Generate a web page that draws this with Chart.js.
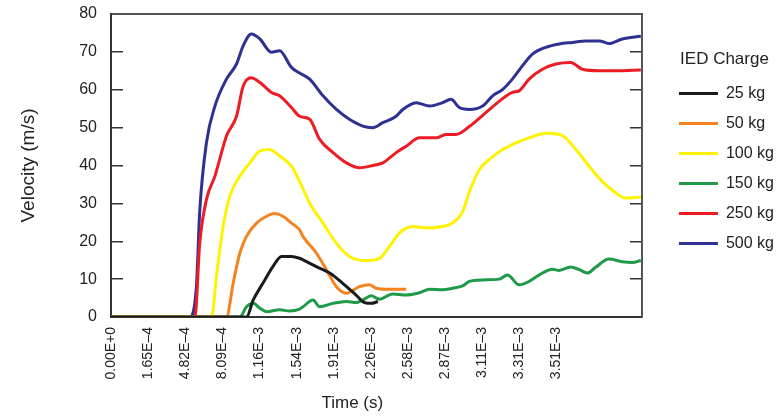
<!DOCTYPE html>
<html>
<head>
<meta charset="utf-8">
<title>Velocity vs time for IED charges</title>
<script src="https://cdn.jsdelivr.net/npm/chart.js@4.4.1/dist/chart.umd.min.js"></script>
<style>
  html, body { margin: 0; padding: 0; background: #fff; }
  #wrap { position: relative; width: 780px; height: 419px; }
</style>
</head>
<body>
<div id="wrap"><canvas id="chart"></canvas></div>
<script>
// time axis: one label every 10 samples
const timeLabels = ['0.00E+0', '1.65E–4', '4.82E–4', '8.09E–4', '1.16E–3', '1.54E–3', '1.91E–3',
  '2.26E–3', '2.58E–3', '2.87E–3', '3.11E–3', '3.31E–3', '3.51E–3'];

const charges = ['25 kg', '50 kg', '100 kg', '150 kg', '250 kg', '500 kg'];
const colours = ['#1a1a1a', '#f58220', '#fff200', '#1e9a48', '#ed1c24', '#2e3192'];

// sample number / velocity (m/s) for every charge
const t25 = [0, 36.5, 38.3, 40.9, 43.6, 45.9, 48.6, 50.8, 51.7, 55.3, 58.9, 62.4, 66.0, 68.3, 70.1, 71.9];
const v25 = [0, 0, 4.5, 8.9, 13.3, 16, 16, 15.5, 15.1, 13.3, 11.6, 8.9, 5.8, 3.8, 3.6, 4.1];

const t50 = [0, 31.1, 32.9, 34.7, 36.5, 39.2, 41.9, 44.1, 46.3, 48.6, 50.8, 51.7, 55.3, 58.0, 60.7, 63.4, 66.9, 69.6, 71.4, 75.0, 79.5];
const v50 = [0, 0, 8.9, 16.9, 21.3, 24.8, 26.6, 27.3, 26.6, 24.8, 23, 21.3, 16.9, 12.5, 8, 6.3, 8, 8.5, 7.6, 7.3, 7.3];

const t100 = [0, 27.1, 28.4, 30.2, 32.0, 34.7, 37.4, 40.1, 42.7, 45.4, 48.6, 50.8, 53.5, 57.1, 60.7, 64.2, 68.7,
  72.3, 75.0, 77.7, 81.3, 84.9, 89.3, 92.0, 94.7, 96.5, 99.2, 101.9, 105.5, 109.1, 112.6, 117.1, 121.6, 125.2,
  128.8, 132.3, 135.9, 138.6, 142.7];
const v100 = [0, 0, 10.7, 23.9, 31.9, 37.2, 40.7, 43.8, 44.2, 42.5, 39.8, 35.8, 30.1, 24.8, 19.5, 16, 14.9,
  15.5, 18.6, 22.2, 23.9, 23.5, 23.9, 24.8, 27.8, 33, 38.9, 41.6, 44.2, 46, 47.3, 48.5, 47.9, 44.2,
  39.8, 35.8, 32.8, 31.4, 31.7];

const t150 = [0, 34.7, 36.5, 38.3, 40.1, 41.9, 45.4, 48.1, 50.8, 51.7, 54.4, 56.2, 59.8, 63.4, 66.0, 67.8, 70.1,
  72.3, 75.9, 79.5, 83.1, 85.8, 89.3, 92.0, 94.7, 96.5, 100.1, 104.6, 106.8, 109.9, 112.6, 115.3, 118.9, 120.7,
  123.8, 126.1, 128.3, 130.6, 134.1, 137.7, 140.4, 142.7];
const v150 = [0, 0, 2.7, 3.6, 2.3, 1.4, 1.9, 1.6, 2.1, 2.7, 4.5, 2.7, 3.6, 4.1, 3.8, 4.5, 5.6,
  4.7, 6.1, 5.8, 6.4, 7.3, 7.2, 7.6, 8.2, 9.4, 9.8, 10, 11.1, 8.5, 9.4, 11.1, 12.6, 12.3,
  13.2, 12.5, 11.6, 13.2, 15.3, 14.6, 14.4, 14.9];

const t250 = [0, 22.6, 23.9, 25.7, 28.0, 31.1, 33.8, 35.6, 37.8, 40.1, 43.2, 45.4, 48.6, 50.8, 53.5, 56.2, 59.8,
  63.4, 66.9, 70.5, 73.2, 76.8, 79.5, 83.1, 87.6, 90.2, 92.9, 96.5, 101.0, 104.6, 108.1, 109.9, 112.6, 116.2,
  119.8, 123.8, 127.0, 131.5, 136.8, 142.7];
const v250 = [0, 0, 19.5, 31, 37.2, 47.8, 53, 61, 63.2, 61.9, 59.3, 58.4, 55.3, 53, 52.2, 46.9, 43.4,
  40.7, 39.4, 40, 40.7, 43.4, 45.1, 47.3, 47.3, 48.2, 48.2, 50.3, 54, 57, 59.3, 59.7, 62.8, 65.4,
  66.8, 67.2, 65.4, 65, 65, 65.2];

const t500 = [0, 21.2, 23.0, 23.9, 25.7, 28.0, 31.1, 33.8, 35.6, 37.8, 40.1, 43.2, 45.4, 48.6, 50.8, 53.5, 57.1,
  60.7, 64.2, 67.8, 70.5, 73.2, 76.8, 78.6, 82.2, 85.8, 89.3, 91.6, 93.8, 96.5, 100.1, 102.8, 105.5, 108.1,
  110.8, 113.5, 117.1, 120.7, 124.3, 127.9, 131.5, 134.1, 137.7, 142.7];
const v500 = [0, 0, 8, 28, 46, 55.7, 62.8, 66.8, 71.6, 74.7, 73.4, 69.9, 70.3, 65.9, 64.4, 62.8, 58.4,
  54.8, 52.2, 50.4, 50, 51.3, 53, 54.8, 56.6, 55.7, 56.6, 57.5, 55.3, 54.8, 55.7, 58.4, 60.1, 62.8,
  66.3, 69.4, 71.2, 72.1, 72.5, 72.9, 72.9, 72.2, 73.4, 74.1];

const times = [t25, t50, t100, t150, t250, t500];
const speeds = [v25, v50, v100, v150, v250, v500];

const FONT = "'Liberation Sans', Arial, sans-serif";
Chart.defaults.font.family = FONT;
Chart.defaults.color = '#222';

// "Time (s)" sits a bit left of the plot centre in the original
const timeTitle = {
  id: 'timeTitle',
  afterDraw(chart) {
    const ctx = chart.ctx;
    ctx.save();
    ctx.font = '17px ' + FONT;
    ctx.fillStyle = '#222';
    ctx.textAlign = 'center';
    ctx.textBaseline = 'middle';
    ctx.fillText('Time (s)', chart.scales.x.getPixelForValue(65), 403);
    ctx.restore();
  }
};

const datasets = charges.map((label, k) => ({
  label: label,
  data: times[k].map((t, i) => ({ x: t, y: speeds[k][i] })),
  borderColor: colours[k],
  backgroundColor: colours[k],
  borderWidth: 3,
  pointRadius: 0,
  cubicInterpolationMode: 'monotone',
  fill: false
}));

new Chart(document.getElementById('chart'), {
  type: 'line',
  data: { datasets: datasets },
  plugins: [timeTitle],
  options: {
    responsive: true,
    maintainAspectRatio: false,
    animation: false,
    layout: { padding: { top: 14, left: 0, right: -4, bottom: 0 } },
    plugins: {
      tooltip: { enabled: false },
      legend: {
        position: 'right',
        align: 'start',
        title: { display: true, text: 'IED Charge', font: { size: 17 }, color: '#222', padding: { top: 37, bottom: 0 } },
        labels: {
          boxWidth: 39,
          boxHeight: 3,
          padding: 14,
          font: { size: 16 },
          color: '#222',
          generateLabels(chart) {
            const items = Chart.defaults.plugins.legend.labels.generateLabels(chart);
            items.forEach(it => { it.lineWidth = 0; it.fillStyle = it.strokeStyle; });
            return items;
          }
        }
      }
    },
    scales: {
      x: {
        type: 'linear',
        min: 0,
        max: 143,
        afterFit(s) { s.height = 102; },
        afterBuildTicks(s) { s.ticks = timeLabels.map((_, i) => ({ value: i * 10 })); },
        ticks: {
          autoSkip: false,
          minRotation: 90,
          maxRotation: 90,
          padding: 10,
          font: { size: 14 },
          callback: v => timeLabels[Math.round(v / 10)]
        },
        grid: { display: false, drawTicks: false },
        border: { color: '#333', width: 2 }
      },
      x2: {
        type: 'linear',
        position: 'top',
        min: 0,
        max: 143,
        afterFit(s) { s.height = 0; },
        ticks: { display: false },
        grid: { display: false, drawTicks: false },
        border: { color: '#555', width: 2 }
      },
      y: {
        min: 0,
        max: 80,
        // fixed width; the big label padding should not push the plot down
        afterFit(s) { s.width = 111; s.paddingTop = 0; s.paddingBottom = 0; },
        ticks: { stepSize: 10, padding: 26, font: { size: 16 } },
        grid: { drawOnChartArea: false, tickLength: -12, color: '#333', lineWidth: 1.5 },
        border: { color: '#333', width: 2 },
        title: { display: true, text: 'Velocity (m/s)', font: { size: 19 }, padding: { top: 17, bottom: 0 } }
      },
      y2: {
        position: 'right',
        min: 0,
        max: 80,
        afterFit(s) { s.width = 23; },
        ticks: { display: false, stepSize: 10 },
        grid: { drawOnChartArea: false, tickLength: -12, color: '#333', lineWidth: 1.5 },
        border: { color: '#555', width: 2 }
      }
    }
  }
});
</script>
</body>
</html>
